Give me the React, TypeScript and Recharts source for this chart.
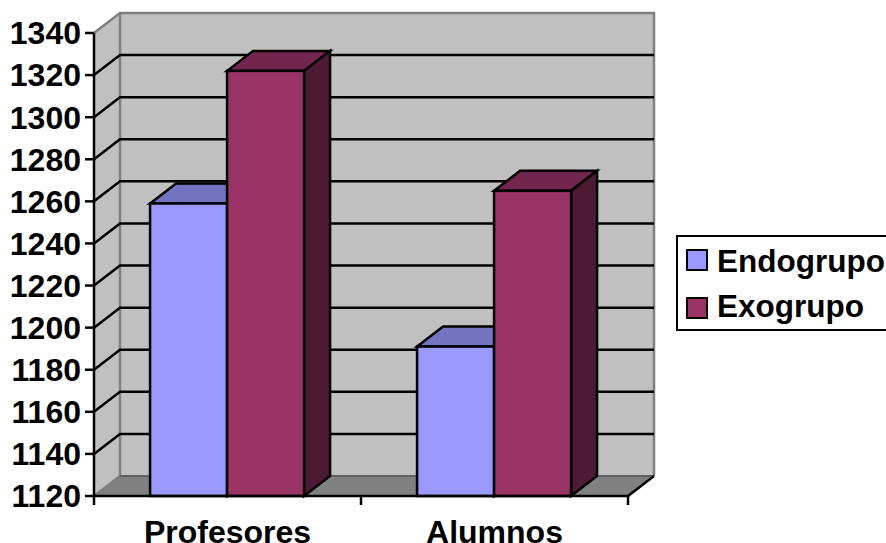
import { BarChart, Bar, XAxis, YAxis, CartesianGrid, Legend } from "recharts"

const categories = ["Profesores", "Alumnos"]
const endogrupo = [1259, 1191]
const exogrupo = [1322, 1265]
const yTicks = [1120, 1140, 1160, 1180, 1200, 1220, 1240, 1260, 1280, 1300, 1320, 1340]

const data = categories.map((name, i) => ({ name, Endogrupo: endogrupo[i], Exogrupo: exogrupo[i] }))

// oblique offset of the back wall
const DX = 26
const DY = 20
const FONT = "'Liberation Sans', Arial, sans-serif"
const WALL_EDGE = "#808080"
const LINE = 2.5

const Box3D = ({ x, y, width, height, fill, top, side }: any) => {
  const r = x + width
  const b = y + height
  return (
    <g stroke="#000" strokeWidth={LINE}>
      <polygon points={`${x},${y} ${x + DX},${y - DY} ${r + DX},${y - DY} ${r},${y}`} fill={top} />
      <polygon points={`${r},${y} ${r + DX},${y - DY} ${r + DX},${b - DY} ${r},${b}`} fill={side} />
      <rect x={x} y={y} width={width} height={height} fill={fill} />
    </g>
  )
}

// walls and floor go in with the first grid line so they stay under everything else
const gridLine = (p: any) => {
  const { x, y, width, height, x1, y1, x2, index } = p
  const right = x + width
  const bottom = y + height
  const isEdge = Math.abs(y1 - y) < 0.5 || Math.abs(y1 - bottom) < 0.5
  const bandEdges = [...categories.map((_, i) => x + (i * width) / categories.length), right]
  return (
    <g key={`grid-${index}`}>
      {index === 0 && (
        <g>
          <polygon
            points={`${x},${y} ${x + DX},${y - DY} ${x + DX},${bottom - DY} ${x},${bottom}`}
            fill="#C0C0C0"
          />
          <rect x={x + DX} y={y - DY} width={width} height={height} fill="#C0C0C0" />
          <polygon
            points={`${x},${bottom} ${x + DX},${bottom - DY} ${right + DX},${bottom - DY} ${right},${bottom}`}
            fill="#808080"
          />
          <g stroke={WALL_EDGE} strokeWidth={LINE} fill="none">
            <polyline points={`${x},${y} ${x + DX},${y - DY} ${right + DX},${y - DY} ${right + DX},${bottom - DY}`} />
            <line x1={x + DX} y1={y - DY} x2={x + DX} y2={bottom - DY} />
            <line x1={x} y1={bottom} x2={x + DX} y2={bottom - DY} />
          </g>
          <line x1={x + DX} y1={bottom - DY} x2={right + DX} y2={bottom - DY} stroke="#606060" strokeWidth={2} />
          <line x1={right} y1={bottom} x2={right + DX} y2={bottom - DY} stroke="#000" strokeWidth={LINE} />
          {/* category ticks sit on the band edges, not under the labels */}
          {bandEdges.map((edge) => (
            <line key={edge} x1={edge} y1={bottom} x2={edge} y2={bottom + 9} stroke="#000" strokeWidth={LINE} />
          ))}
        </g>
      )}
      {!isEdge && (
        <polyline
          points={`${x1},${y1} ${x1 + DX},${y1 - DY} ${x2 + DX},${y1 - DY}`}
          fill="none"
          stroke="#000"
          strokeWidth={LINE}
        />
      )}
    </g>
  )
}

const LegendBox = ({ payload }: any) => (
  <div
    style={{
      boxSizing: "border-box",
      width: 214,
      height: 96,
      border: "2.5px solid #000",
      background: "#fff",
      position: "relative",
      fontFamily: FONT,
      fontWeight: 700,
      fontSize: 31.5,
      color: "#000",
    }}
  >
    {(payload || []).map((entry: any, i: number) => (
      <div key={entry.value}>
        <div
          style={{
            position: "absolute",
            boxSizing: "border-box",
            left: 8,
            top: 12 + i * 48,
            width: 22,
            height: 22,
            border: "2.5px solid #000",
            background: entry.color,
          }}
        />
        <div style={{ position: "absolute", left: 39, top: 6 + i * 45, lineHeight: "36px", whiteSpace: "nowrap" }}>
          {entry.value}
        </div>
      </div>
    ))}
  </div>
)

export default function App() {
  const tickStyle = { fill: "#000", fontSize: 32, fontWeight: 700, fontFamily: FONT }
  return (
    <div style={{ position: "absolute", left: 0, top: 0, width: 886, height: 543, overflow: "hidden", background: "#fff" }}>
      <BarChart
        width={886}
        height={543}
        data={data}
        margin={{ top: 33, right: 258, bottom: 0, left: 0 }}
        barCategoryGap="21%"
        barGap={0}
      >
        <CartesianGrid horizontal={gridLine} vertical={false} />
        <XAxis
          dataKey="name"
          tick={tickStyle}
          tickLine={false}
          tickMargin={18}
          axisLine={{ stroke: "#000", strokeWidth: LINE }}
          height={47}
        />
        <YAxis
          domain={[1120, 1340]}
          ticks={yTicks}
          interval={0}
          width={94}
          tick={tickStyle}
          tickSize={9}
          tickMargin={4}
          axisLine={{ stroke: "#000", strokeWidth: LINE }}
          tickLine={{ stroke: "#000", strokeWidth: LINE }}
        />
        {/* zero-sized wrapper: the box floats over the chart and takes no room from the plot */}
        <Legend
          layout="vertical"
          content={<LegendBox />}
          wrapperStyle={{ left: 676, top: 235, width: 0, height: 0, bottom: "auto", right: "auto" }}
        />
        <Bar
          dataKey="Endogrupo"
          fill="#9999FF"
          isAnimationActive={false}
          shape={(p: any) => <Box3D {...p} top="#7373BF" side="#4D4D80" />}
        />
        <Bar
          dataKey="Exogrupo"
          fill="#993366"
          isAnimationActive={false}
          shape={(p: any) => <Box3D {...p} top="#73264D" side="#4D1A33" />}
        />
      </BarChart>
    </div>
  )
}
